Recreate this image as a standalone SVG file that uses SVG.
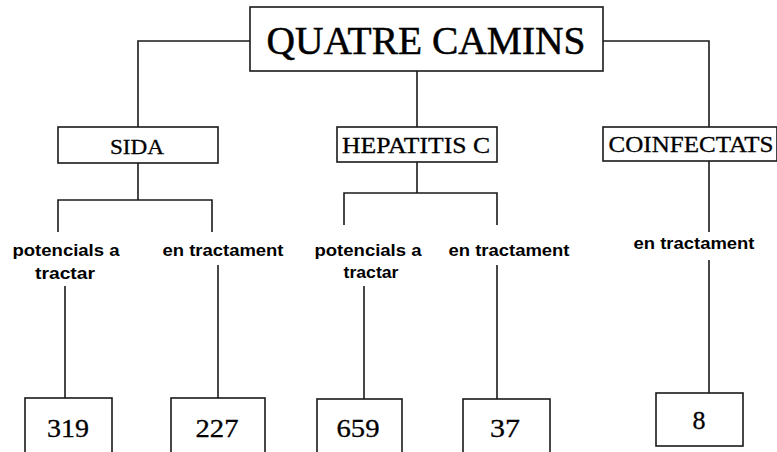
<svg xmlns="http://www.w3.org/2000/svg" width="777" height="452" viewBox="0 0 777 452">
<style>
.box{fill:#fff;stroke:#1a1a1a;stroke-width:1.6}
.ln{fill:none;stroke:#1a1a1a;stroke-width:1.6}
.serif{font-family:"Liberation Serif","Times New Roman",serif;fill:#000;text-anchor:middle}
.sans{font-family:"Liberation Sans",Arial,sans-serif;font-weight:bold;font-size:16px;fill:#000;text-anchor:middle}
</style>
<rect width="777" height="452" fill="#fff"/>
<g id="connectors">
<polyline class="ln" points="250,41 138,41 138,127"/>
<polyline class="ln" points="603,41 709,41 709,127"/>
<line class="ln" x1="417" y1="71" x2="417" y2="127"/>
<line class="ln" x1="138" y1="163" x2="138" y2="200"/>
<polyline class="ln" points="58,232 58,200 212,200 212,232"/>
<line class="ln" x1="65" y1="286" x2="65" y2="399"/>
<line class="ln" x1="218" y1="265" x2="218" y2="399"/>
<line class="ln" x1="417" y1="162" x2="417" y2="193"/>
<polyline class="ln" points="344,225 344,193 497,193 497,225"/>
<line class="ln" x1="364" y1="286" x2="364" y2="399"/>
<line class="ln" x1="497" y1="265" x2="497" y2="399"/>
<line class="ln" x1="709" y1="161" x2="709" y2="232"/>
<line class="ln" x1="709" y1="260" x2="709" y2="393"/>
</g>
<g id="title">
<rect class="box" x="250" y="7" width="353" height="64"/>
<text class="serif" x="426" y="54" font-size="39" textLength="319" lengthAdjust="spacingAndGlyphs" stroke="#000" stroke-width="0.5">QUATRE CAMINS</text>
</g>
<g id="sida">
<rect class="box" x="58" y="127" width="160" height="36"/>
<text class="serif" x="137" y="154" font-size="22" textLength="54" lengthAdjust="spacingAndGlyphs" stroke="#000" stroke-width="0.3">SIDA</text>
</g>
<g id="hepatitis">
<rect class="box" x="337" y="127" width="160" height="35"/>
<text class="serif" x="416" y="153" font-size="23" textLength="148" lengthAdjust="spacingAndGlyphs" stroke="#000" stroke-width="0.3">HEPATITIS C</text>
</g>
<g id="coinfectats">
<rect class="box" x="603" y="127" width="174" height="34"/>
<text class="serif" x="691" y="152" font-size="23" textLength="165" lengthAdjust="spacingAndGlyphs" stroke="#000" stroke-width="0.3">COINFECTATS</text>
</g>
<g id="sida-pot-label">
<text class="sans" x="66" y="256" textLength="107" lengthAdjust="spacingAndGlyphs">potencials a</text>
<text class="sans" x="65" y="279" textLength="60" lengthAdjust="spacingAndGlyphs">tractar</text>
</g>
<g id="sida-tract-label">
<text class="sans" x="223" y="256" textLength="121" lengthAdjust="spacingAndGlyphs">en tractament</text>
</g>
<g id="hep-pot-label">
<text class="sans" x="368" y="256" textLength="107" lengthAdjust="spacingAndGlyphs">potencials a</text>
<text class="sans" x="371" y="278" textLength="55" lengthAdjust="spacingAndGlyphs">tractar</text>
</g>
<g id="hep-tract-label">
<text class="sans" x="509" y="256" textLength="121" lengthAdjust="spacingAndGlyphs">en tractament</text>
</g>
<g id="coinf-tract-label">
<text class="sans" x="694" y="249" textLength="121" lengthAdjust="spacingAndGlyphs">en tractament</text>
</g>
<g id="n319">
<rect class="box" x="25" y="398" width="87" height="56"/>
<text class="serif" x="68" y="437" font-size="26" textLength="42" lengthAdjust="spacingAndGlyphs" stroke="#000" stroke-width="0.3">319</text>
</g>
<g id="n227">
<rect class="box" x="171" y="398" width="94" height="56"/>
<text class="serif" x="217" y="437" font-size="26" textLength="43" lengthAdjust="spacingAndGlyphs" stroke="#000" stroke-width="0.3">227</text>
</g>
<g id="n659">
<rect class="box" x="317" y="399" width="85" height="55"/>
<text class="serif" x="358" y="437" font-size="26" textLength="43" lengthAdjust="spacingAndGlyphs" stroke="#000" stroke-width="0.3">659</text>
</g>
<g id="n37">
<rect class="box" x="463" y="399" width="87" height="55"/>
<text class="serif" x="505" y="437" font-size="26" textLength="30" lengthAdjust="spacingAndGlyphs" stroke="#000" stroke-width="0.3">37</text>
</g>
<g id="n8">
<rect class="box" x="656" y="393" width="87" height="53"/>
<text class="serif" x="699" y="429" font-size="26" stroke="#000" stroke-width="0.3">8</text>
</g>
</svg>
